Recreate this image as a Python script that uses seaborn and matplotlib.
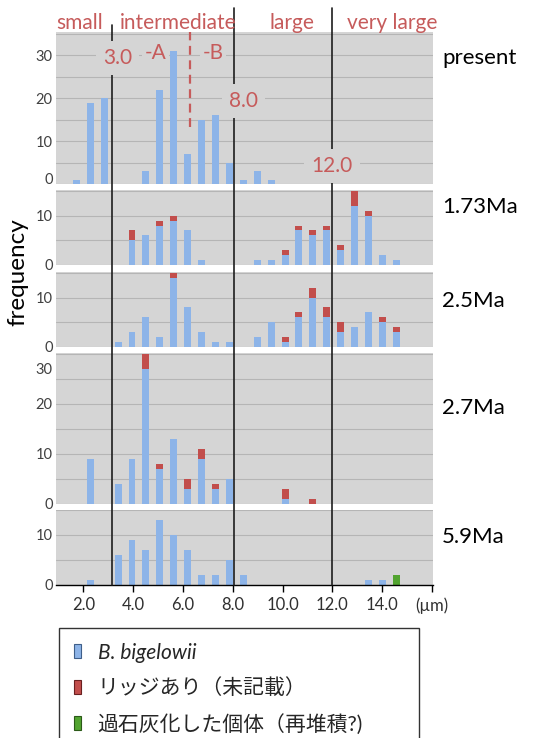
import matplotlib
matplotlib.use("Agg")
import matplotlib.pyplot as plt
import matplotlib.transforms as mtransforms
from matplotlib.lines import Line2D
from matplotlib.patches import Patch
import pandas as pd
import seaborn as sns

# size classes of the histogram (left to right), counted per class
BINS = list(range(27))

PRESENT_BLUE = [0, 1, 19, 20, 0, 0, 3, 22, 31, 7, 15, 16, 5, 1, 3, 1,
                0, 0, 0, 0, 0, 0, 0, 0, 0, 0, 0]

MA173_BLUE = [0, 0, 0, 0, 0, 5, 6, 8, 9, 7, 1, 0, 0, 0, 1, 1,
              2, 7, 6, 7, 3, 12, 10, 2, 1, 0, 0]
MA173_RED = [0, 0, 0, 0, 0, 2, 0, 1, 1, 0, 0, 0, 0, 0, 0, 0,
             1, 1, 1, 1, 1, 3, 1, 0, 0, 0, 0]

MA25_BLUE = [0, 0, 0, 0, 1, 3, 6, 2, 14, 8, 3, 1, 1, 0, 2, 5,
             1, 6, 10, 6, 3, 4, 7, 5, 3, 0, 0]
MA25_RED = [0, 0, 0, 0, 0, 0, 0, 0, 1, 0, 0, 0, 0, 0, 0, 0,
            1, 1, 2, 2, 2, 0, 0, 1, 1, 0, 0]

MA27_BLUE = [0, 0, 9, 0, 4, 9, 27, 7, 13, 3, 9, 3, 5, 0, 0, 0,
             1, 0, 0, 0, 0, 0, 0, 0, 0, 0, 0]
MA27_RED = [0, 0, 0, 0, 0, 0, 3, 1, 0, 2, 2, 1, 0, 0, 0, 0,
            2, 0, 1, 0, 0, 0, 0, 0, 0, 0, 0]

MA59_BLUE = [0, 0, 1, 0, 6, 9, 7, 13, 10, 7, 2, 2, 5, 2, 0, 0,
             0, 0, 0, 0, 0, 0, 1, 1, 0, 0, 0]
MA59_GREEN = [0, 0, 0, 0, 0, 0, 0, 0, 0, 0, 0, 0, 0, 0, 0, 0,
              0, 0, 0, 0, 0, 0, 0, 0, 2, 0, 0]

PANEL_NAMES = ["present", "1.73Ma", "2.5Ma", "2.7Ma", "5.9Ma"]
SIZE_CLASSES = ["small", "intermediate", "large", "very large"]
BOUNDARY_LABELS = ["3.0", "8.0", "12.0"]
X_TICK_LABELS = ["2.0", "4.0", "6.0", "8.0", "10.0", "12.0", "14.0", "(µm)"]
LEGEND_LABELS = ["B. bigelowii", "リッジあり（未記載）", "過石灰化した個体（再堆積?)"]

BLUE = "#8DB4E8"
RED = "#C24E4C"
GREEN = "#52A430"
GRAY = "#D5D5D5"
GRID = "#B5B5B5"
SALMON = "#C65B5B"

W, H = 549, 738
XLIM = (-0.5, 26.6)

sns.set_theme(style="white")
plt.rcParams["font.family"] = ["Lato", "Noto Sans CJK JP", "DejaVu Sans"]


def fx(px):
    return px / W


def fy(py):
    return 1 - py / H


def um_pos(um):
    # position of a micrometre value on the size-class axis
    return 1.5 + (um - 2.0) * 1.79


def draw_panel(ax, blue, red, green, ymax, ylabels):
    zeros = [0] * len(BINS)
    red = red or zeros
    green = green or zeros
    df = pd.DataFrame({
        "bin": BINS,
        "blue": blue,
        "red": [b + r for b, r in zip(blue, red)],
        "green": [b + r + g for b, r, g in zip(blue, red, green)],
    })
    for col, color in (("green", GREEN), ("red", RED), ("blue", BLUE)):
        sns.barplot(data=df, x="bin", y=col, order=BINS, color=color,
                    saturation=1, width=0.5, linewidth=0, errorbar=None, ax=ax)
    ax.set_facecolor(GRAY)
    ax.set_xlim(*XLIM)
    ax.set_ylim(0, ymax)
    ax.set_xlabel("")
    ax.set_ylabel("")
    ticks = list(range(0, int(ymax) + 1, 5))
    ax.set_yticks(ticks, [str(t) if t in ylabels else "" for t in ticks])
    ax.tick_params(axis="y", length=0, pad=2, labelsize=10.5, labelcolor="#404040")
    ax.grid(axis="y", color=GRID, linewidth=0.8)
    ax.set_axisbelow(True)
    for s in ax.spines.values():
        s.set_visible(False)
    ax.set_xticks([])


def nudge_label(ax, value, dy_px):
    # shift one y tick label vertically (pixels, positive = up)
    for tick, lab in zip(ax.get_yticks(), ax.get_yticklabels()):
        if tick == value:
            off = mtransforms.ScaledTranslation(0, dy_px / 100, fig.dpi_scale_trans)
            lab.set_transform(lab.get_transform() + off)


fig = plt.figure(figsize=(W / 100, H / 100), dpi=100)

# (top px, bottom px, ymax, labelled ticks)
boxes = [(32, 184.3, 35.4, [0, 10, 20, 30]),
         (190, 265, 15.2, [0, 10]),
         (271.7, 346.7, 15.3, [0, 10]),
         (353, 503.5, 30.1, [0, 10, 20, 30]),
         (510, 585, 15.0, [0, 10])]
series = [(PRESENT_BLUE, None, None),
          (MA173_BLUE, MA173_RED, None),
          (MA25_BLUE, MA25_RED, None),
          (MA27_BLUE, MA27_RED, None),
          (MA59_BLUE, None, MA59_GREEN)]
label_y = [58, 207, 301, 408, 537]

axes = []
for (top, bot, ymax, ylab), (b, r, g), name, ly in zip(boxes, series, PANEL_NAMES, label_y):
    ax = fig.add_axes([fx(55.5), fy(bot), fx(432.5) - fx(55.5), (bot - top) / H])
    draw_panel(ax, b, r, g, ymax, ylab)
    fig.text(fx(442), fy(ly), name, ha="left", va="center", fontsize=16, color="black")
    axes.append(ax)

nudge_label(axes[0], 0, 6)
nudge_label(axes[3], 30, -15)

# x axis on the bottom panel
ax5 = axes[-1]
ax5.spines["bottom"].set_visible(True)
ax5.spines["bottom"].set_color("black")
ax5.spines["bottom"].set_linewidth(1.0)
ax5.set_xticks([um_pos(u) for u in range(2, 17, 2)], X_TICK_LABELS)
ax5.tick_params(axis="x", bottom=True, direction="out", length=5, width=1,
                color="black", labelsize=12, labelcolor="#303030", pad=4)
ax5.set_xlim(*XLIM)

# vertical class boundaries spanning all panels
ax1 = axes[0]
trans = mtransforms.blended_transform_factory(ax1.transData, fig.transFigure)
line_pos = [3.55, 12.3, 19.35]
line_top = [25, 8, 8]
for x, t in zip(line_pos, line_top):
    fig.add_artist(Line2D([x, x], [fy(t), fy(585)], transform=trans,
                          color="#1E1E1E", linewidth=1.2, zorder=2))

box = dict(boxstyle="square,pad=0.35", fc=GRAY, ec="none")
for s, x, y in zip(BOUNDARY_LABELS, [3.95, 13.0, 19.4], [58, 101, 166]):
    fig.text(x, fy(y), s, transform=trans, ha="center", va="center",
             fontsize=15, color=SALMON, bbox=box, zorder=3)
small_box = dict(boxstyle="square,pad=0.12", fc=GRAY, ec="none")
for s, x in zip(["-A", "-B"], [6.7, 10.85]):
    fig.text(x, fy(53), s, transform=trans, ha="center", va="center",
             fontsize=15, color=SALMON, bbox=small_box, zorder=3)
ax1.axvline(9.15, ymin=13.3 / 35.4, ymax=1, color=SALMON, linewidth=1.6,
            linestyle=(0, (4, 2.5)))

for s, x in zip(SIZE_CLASSES, [1.25, 8.35, 16.5, 23.7]):
    fig.text(x, fy(23), s, transform=trans, ha="center", va="center",
             fontsize=15, color=SALMON, zorder=3)

fig.text(fx(18), fy(272), "frequency", rotation=90, ha="center", va="center",
         fontsize=17.5, color="black")

handles = [Patch(fc=BLUE, ec="#3F5F8A", lw=0.8),
           Patch(fc=RED, ec="#6A2020", lw=0.8),
           Patch(fc=GREEN, ec="#2B5A18", lw=0.8)]
leg = fig.legend(handles, LEGEND_LABELS, loc="upper left",
                 bbox_to_anchor=(fx(59), 0, fx(419) - fx(59), fy(628)),
                 mode="expand", frameon=True, fancybox=False, edgecolor="black",
                 fontsize=15, handlelength=0.35, handleheight=0.65,
                 handletextpad=0.8, labelspacing=0.74, borderpad=0.7,
                 borderaxespad=0)
leg.get_frame().set_linewidth(1.0)
leg.get_texts()[0].set_style("italic")

fig.savefig("out.png", dpi=100)
